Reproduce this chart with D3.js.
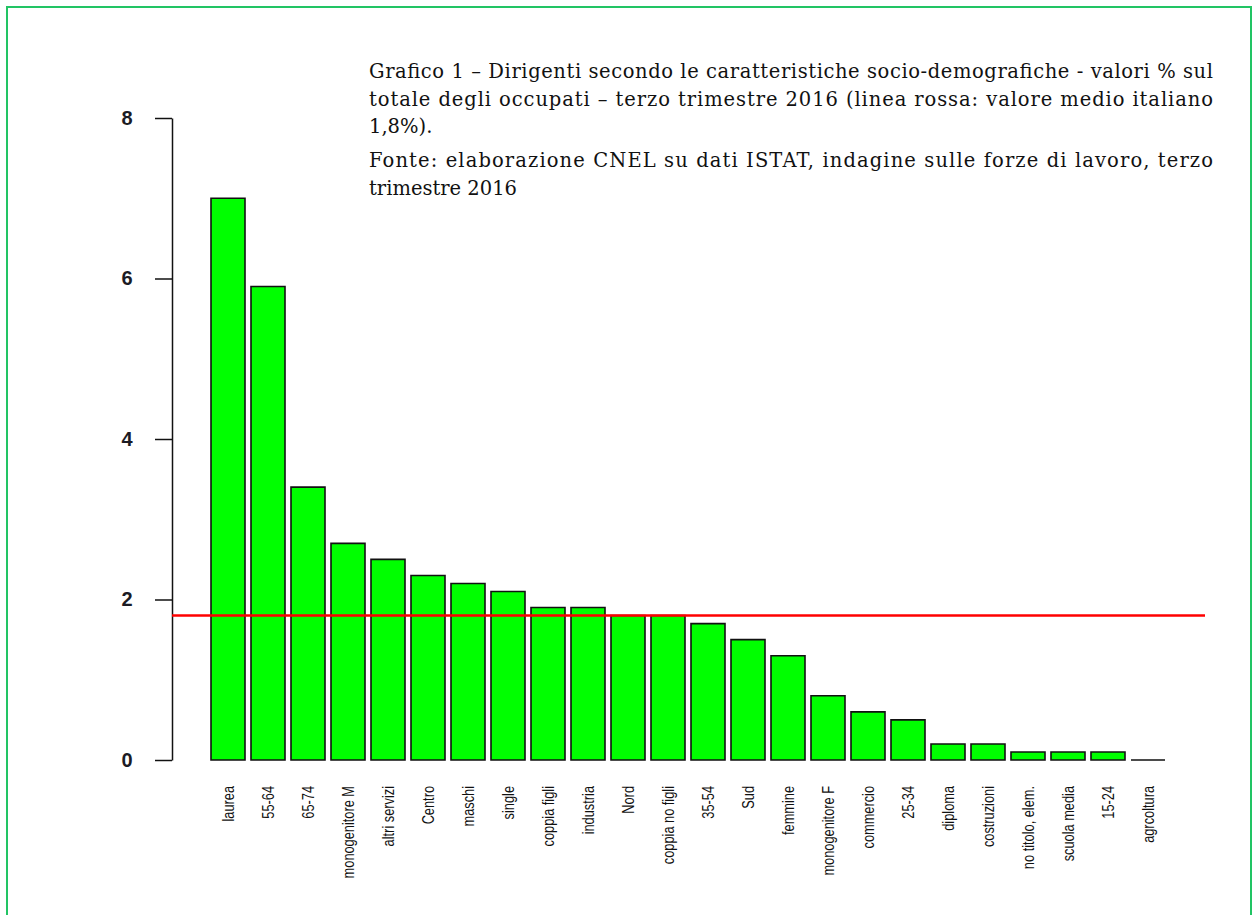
<!DOCTYPE html>
<html>
<head>
<meta charset="utf-8">
<script src="https://cdn.jsdelivr.net/npm/d3@7"></script>
<style>
  html, body { margin: 0; padding: 0; background: #fff; }
  svg { display: block; }
</style>
</head>
<body>
<div id="chart"></div>
<script>
// categories and values (% of employed who are managers)
const categories = [
    "laurea", "55-64", "65-74", "monogenitore M", "altri servizi", "Centro",
    "maschi", "single", "coppia figli", "industria", "Nord", "coppia no figli",
    "35-54", "Sud", "femmine", "monogenitore F", "commercio", "25-34",
    "diploma", "costruzioni", "no titolo, elem.", "scuola media", "15-24", "agrcoltura"
];
const values = [
    7.0, 5.9, 3.4, 2.7, 2.5, 2.3,
    2.2, 2.1, 1.9, 1.9, 1.8, 1.8,
    1.7, 1.5, 1.3, 0.8, 0.6, 0.5,
    0.2, 0.2, 0.1, 0.1, 0.1, 0.0
];
const yTicks = [0, 2, 4, 6, 8];
const averageValue = 1.8;

const titleLines = [
    { text: "Grafico 1 \u2013 Dirigenti secondo le caratteristiche socio-demografiche - valori % sul", justify: true },
    { text: "totale degli occupati \u2013 terzo trimestre 2016 (linea rossa: valore medio italiano", justify: true },
    { text: "1,8%).", justify: false },
    { text: "Fonte: elaborazione CNEL su dati ISTAT, indagine sulle forze di lavoro, terzo", justify: true },
    { text: "trimestre 2016", justify: false }
];

const width = 1252, height = 915;

const svg = d3.select("#chart").append("svg")
    .attr("width", width)
    .attr("height", height);

// green frame around the whole picture
svg.append("rect")
    .attr("x", 7).attr("y", 7)
    .attr("width", 1244).attr("height", 940)
    .attr("fill", "none")
    .attr("stroke", "#22c464")
    .attr("stroke-width", 2);

const x = d3.scaleBand()
    .domain(categories)
    .range([211, 1165])
    .paddingInner(0.15)
    .paddingOuter(0);

const y = d3.scaleLinear()
    .domain([0, 8])
    .range([760, 118]);

// y axis (R style: line spans first to last tick, ticks point left)
const yAxis = d3.axisLeft(y)
    .tickValues(yTicks)
    .tickSize(17)
    .tickSizeOuter(0)
    .tickPadding(20)
    .tickFormat(d3.format("d"));

const gy = svg.append("g")
    .attr("transform", "translate(172,0)")
    .call(yAxis);

gy.select(".domain").attr("stroke", "#111").attr("stroke-width", 1.5);
gy.selectAll(".tick line").attr("stroke", "#111").attr("stroke-width", 1.5);
gy.selectAll(".tick text")
    .attr("font-family", "'Liberation Sans', Arial, sans-serif")
    .attr("font-size", 20)
    .attr("font-weight", "bold")
    .attr("fill", "#1b1b24")
    .attr("text-anchor", "middle")
    .attr("x", -45);

// bars drawn as paths so a zero value still shows its outline
svg.append("g")
    .selectAll("path")
    .data(categories)
    .join("path")
    .attr("d", (d, i) => {
        const x0 = x(d), w = x.bandwidth();
        const yt = y(values[i]), yb = y(0);
        return `M${x0},${yb}V${yt}H${x0 + w}V${yb}Z`;
    })
    .attr("fill", "#00ff00")
    .attr("stroke", "#111")
    .attr("stroke-width", 1.6);

// category labels, vertical, right-aligned under the bars
svg.append("g")
    .selectAll("text")
    .data(categories)
    .join("text")
    .attr("transform", (d) => `translate(${x(d) + x.bandwidth() / 2},786) rotate(-90) scale(0.8,1)`)
    .attr("dy", "0.35em")
    .attr("text-anchor", "end")
    .attr("font-family", "'Liberation Sans', Arial, sans-serif")
    .attr("font-size", 16)
    .attr("fill", "#111")
    .text((d) => d);

// red line: Italian average
svg.append("line")
    .attr("x1", 172).attr("x2", 1205)
    .attr("y1", y(averageValue)).attr("y2", y(averageValue))
    .attr("stroke", "#ff0000")
    .attr("stroke-width", 2.6);

// caption block, justified like the source document
const titleLeft = 369, titleRight = 1213;
const baselines = [78, 106, 133, 167, 195];

svg.append("g")
    .selectAll("text")
    .data(titleLines)
    .join("text")
    .attr("x", titleLeft)
    .attr("y", (d, i) => baselines[i])
    .attr("font-family", "'DejaVu Serif', Georgia, serif")
    .attr("font-size", 19.5)
    .attr("fill", "#111")
    .attr("textLength", (d) => d.justify ? titleRight - titleLeft : null)
    .attr("lengthAdjust", "spacing")
    .text((d) => d.text);
</script>
</body>
</html>
